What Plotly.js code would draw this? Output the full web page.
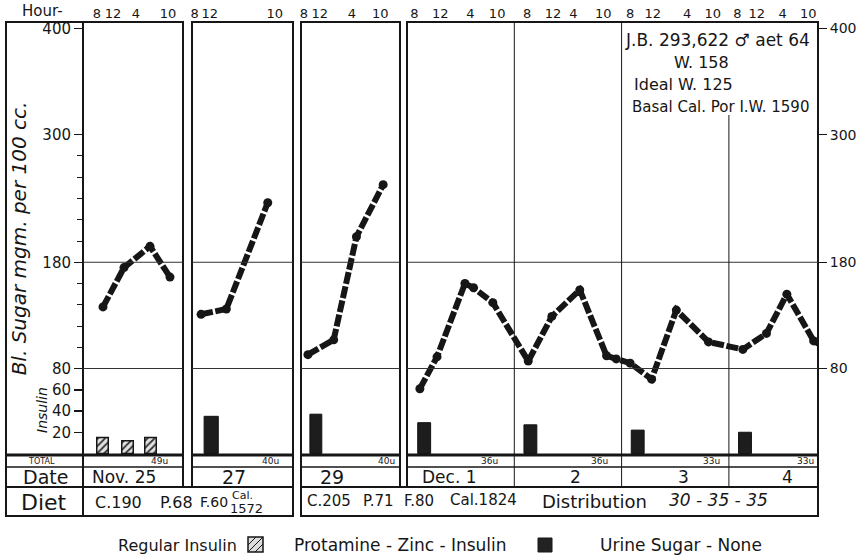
<!DOCTYPE html>
<html><head><meta charset="utf-8">
<script src="https://cdn.plot.ly/plotly-3.0.1.min.js"></script>
<style>html,body{margin:0;padding:0;background:#fff}#chart{width:868px;height:560px}</style>
</head><body><div id="chart"></div>
<script>
// ---------------- data ----------------
// time axis: day index + fraction of the drawn day column
const hourLabels   = ['8','12','4','10'];
const nov25Hours   = [0.14, 0.30, 0.53, 0.85];
const nov27Labels  = ['8','12','10'];
const nov27Hours   = [0.025, 0.175, 0.82];
const nov29Hours   = [0.03, 0.19, 0.515, 0.80];
const decHours     = [1.07,1.31,1.59,1.84, 2.12,2.36,2.55,2.83, 3.08,3.29,3.61,3.85, 4.08,4.26,4.50,4.74];

// blood sugar, mgm per 100 cc
const nov25Time  = [0.20, 0.41, 0.67, 0.87];
const nov25Sugar = [138, 175, 195, 166];
const nov27Time  = [0.09, 0.34, 0.75];
const nov27Sugar = [131, 136, 236];
const nov29Time  = [0.07, 0.33, 0.56, 0.83];
const nov29Sugar = [93, 107, 204, 253];
const decTime  = [1.12,1.28,1.54,1.62,1.80,2.13,2.35,2.61,2.86,2.95,3.08,3.28,3.51,3.81,4.13,4.35,4.54,4.79,4.83];
const decSugar = [61, 91, 160, 156, 142, 87, 129, 154, 92, 89, 85, 70, 135, 105, 98, 113, 150, 106, 105];

// insulin units
const regularTime  = [0.195, 0.445, 0.675];
const regularUnits = [15, 12, 15];
const pziNov27Time = [0.19];
const pziNov27     = [35];
const pziNov29Time = [0.15];
const pziNov29     = [37];
const pziDecTime   = [1.16, 2.15, 3.15, 4.15];
const pziDec       = [29, 27, 22, 20];

const totals = ['49u','40u','40u','36u','36u','33u','33u'];
const dates  = ['Nov. 25','27','29','Dec. 1','2','3','4'];
const sugarTicks = [20,40,60,80,180,300,400];
const minorTicks = [100,120,140,160,200,220,240,260,280];
const rightTicks = [80,180,300,400];
const gridLevels = [80,180];
const patientInfo = ['J.B. 293,622 ♂ aet 64','W. 158','Ideal W. 125','Basal Cal. Por I.W. 1590'];
const legendText = ['Regular Insulin','Protamine - Zinc - Insulin','Urine Sugar - None'];

// ---------------- layout helpers ----------------
const FONT = 'DejaVu Sans';
const INK = '#161616';
const W = 868, H = 560;
const X = p => p / W;
const Y = p => 1 - p / H;
const TOP = 22, BASE = 455, TOT = 467, DATE = 487, DIET = 516;
const panels = [[83,183],[192,293],[301,400],[407,818]];
const decRange = [1, 1 + (818 - 407) / 107.3];
const yRange = [-1.4, 406.1];

function xax(i, range, tv, tt) {
  return {domain:[X(panels[i][0]), X(panels[i][1])], range, anchor:'y', side:'top',
    showgrid:false, zeroline:false, showline:false, ticks:'', tickmode:'array', tickangle:0,
    tickvals:tv, ticktext:tt, tickfont:{family:FONT, size:13, color:INK}, fixedrange:true};
}
const decLabels = [].concat(hourLabels, hourLabels, hourLabels, hourLabels);

const lineStyle = {color:INK, width:6, dash:'12px,2.5px'};
function sugar(x, y, xa, ya) {
  return {type:'scatter', mode:'lines+markers', x, y, xaxis:xa, yaxis:ya,
    line:lineStyle, marker:{color:INK, size:9}, showlegend:false, hoverinfo:'skip'};
}
function pzi(x, y, xa, w) {
  return {type:'bar', x, y, xaxis:xa, yaxis:'y', width:w,
    marker:{color:'#1d1d1d', line:{color:'#111', width:1}}, showlegend:false, hoverinfo:'skip'};
}

const data = [
  {type:'bar', x:regularTime, y:regularUnits, xaxis:'x', yaxis:'y', width:0.115,
   marker:{color:'#e2e2e2', pattern:{shape:'/', fgcolor:'#333', bgcolor:'#e2e2e2', size:5, solidity:0.35},
           line:{color:INK, width:1.5}}, showlegend:false, hoverinfo:'skip'},
  pzi(pziNov27Time, pziNov27, 'x2', 0.14),
  pzi(pziNov29Time, pziNov29, 'x3', 0.12),
  pzi(pziDecTime, pziDec, 'x4', 0.12),
  sugar(nov25Time, nov25Sugar, 'x', 'y'),
  sugar(nov27Time, nov27Sugar, 'x2', 'y'),
  sugar(nov29Time, nov29Sugar, 'x3', 'y'),
  sugar(decTime, decSugar, 'x4', 'y2')
];

// ---------------- shapes ----------------
const shapes = [];
const ln = (x0,y0,x1,y1,w) => shapes.push({type:'line', xref:'paper', yref:'paper',
  x0:X(x0), y0:Y(y0), x1:X(x1), y1:Y(y1), line:{color:INK, width:w}});
const box = (x0,y0,x1,y1,w,fill) => shapes.push({type:'rect', xref:'paper', yref:'paper',
  x0:X(x0), y0:Y(y1), x1:X(x1), y1:Y(y0), line:{color:INK, width:w}, fillcolor:fill || 'rgba(0,0,0,0)'});

box(6, TOP, 83, DIET, 2);
ln(6, BASE, 83, BASE, 3); ln(6, TOT, 83, TOT, 1.5); ln(6, DATE, 83, DATE, 2);
const axNames = ['x','x2','x3','x4'];
panels.forEach(([a,b], i) => {
  box(a, TOP, b, DATE, 2);
  ln(a, BASE, b, BASE, 3);
  ln(a, TOT, b, TOT, 1.5);
  gridLevels.forEach(v => shapes.push({type:'line', xref:axNames[i] + ' domain', x0:0, x1:1,
    yref:'y', y0:v, y1:v, line:{color:'#333', width:1}}));
});
box(83, DATE, 293, DIET, 2);
box(301, DATE, 818, DIET, 2);
[2,3,4].forEach(d => shapes.push({type:'line', xref:'x4', x0:d, x1:d, yref:'paper',
  y0:Y(DATE), y1:Y(d === 4 ? 115 : TOP), line:{color:INK, width:1}}));

// legend swatches
box(248, 537, 263, 552, 1.5, '#dcdcdc');
ln(248, 552, 263, 537, 1); ln(248, 545, 256, 537, 1); ln(255, 552, 263, 544, 1);
box(538, 538, 552, 552, 1, '#222');

// ---------------- annotations ----------------
const ann = [];
const txt = (x, y, t, size, opt) => ann.push(Object.assign({xref:'paper', yref:'paper',
  x:X(x), y:Y(y), xanchor:'center', yanchor:'middle', text:t, showarrow:false,
  font:{family:FONT, size, color:INK}}, opt || {}));
const ital = size => ({family:FONT, size, color:INK, style:'italic'});

txt(42, 11, 'Hour-', 15);
txt(42, 410, 'Insulin', 14, {textangle:-90, font:ital(14)});
txt(41, 461, 'TOTAL', 8);
txt(45, 477, 'Date', 19);
txt(44, 502, 'Diet', 22);

const totalRight = [170, 281, 397, 500, 610, 722, 816];
totals.forEach((t, i) => txt(totalRight[i], 461, t, 9, {xanchor:'right'}));
const dateX = [[90,'left'],[234,'center'],[332,'center'],[420,'left'],[575,'center'],[683,'center'],[787,'center']];
dates.forEach((t, i) => txt(dateX[i][0], 477, t, i === 1 || i === 2 ? 19 : 17, {xanchor:dateX[i][1]}));

txt(93, 502, 'C.190', 16, {xanchor:'left'});
txt(158, 502, 'P.68', 16, {xanchor:'left'});
txt(198, 502, 'F.60', 14, {xanchor:'left'});
txt(243, 495, 'Cal.', 11);
txt(246, 508, '1572', 13);
txt(305, 501, 'C.205', 15, {xanchor:'left'});
txt(361, 501, 'P.71', 15, {xanchor:'left'});
txt(402, 501, 'F.80', 15, {xanchor:'left'});
txt(448, 500, 'Cal.1824', 15, {xanchor:'left'});
txt(540, 501, 'Distribution', 18, {xanchor:'left'});
txt(667, 500, '30 - 35 - 35', 17, {xanchor:'left', font:ital(17)});

const infoPos = [[623,40,17],[672,62,16],[632,84,16],[630,107,15]];
patientInfo.forEach((t, i) => txt(infoPos[i][0], infoPos[i][1], t, infoPos[i][2], {xanchor:'left'}));

const legendFont = [16, 17, 17];
const legX = [116, 292, 598];
legendText.forEach((t, i) => txt(legX[i], 545, t, legendFont[i], {xanchor:'left'}));

// ---------------- layout ----------------
const layout = {
  width:W, height:H, margin:{l:0, r:0, t:0, b:0},
  paper_bgcolor:'#fff', plot_bgcolor:'rgba(0,0,0,0)', barmode:'overlay',
  font:{family:FONT, color:INK},
  xaxis: xax(0, [0,1], nov25Hours, hourLabels),
  xaxis2: xax(1, [0,1], nov27Hours, nov27Labels),
  xaxis3: xax(2, [0,1], nov29Hours, hourLabels),
  xaxis4: xax(3, decRange, decHours, decLabels),
  yaxis: {domain:[Y(BASE), Y(TOP)], range:yRange, anchor:'x', side:'left',
    tickmode:'array', tickvals:sugarTicks, ticktext:sugarTicks.map(String),
    ticks:'outside', ticklen:8, tickwidth:1.5, tickcolor:INK,
    tickfont:{family:FONT, size:15, color:INK},
    minor:{tickmode:'array', tickvals:minorTicks, ticks:'outside', ticklen:5, tickcolor:INK, tickwidth:1},
    showgrid:false, zeroline:false, showline:false, fixedrange:true,
    title:{text:'Bl. Sugar mgm. per 100 cc.', standoff:10, font:ital(20)}},
  yaxis2: {domain:[Y(BASE), Y(TOP)], range:yRange, overlaying:'y', anchor:'x4', side:'right',
    tickmode:'array', tickvals:rightTicks, ticktext:rightTicks.map(String),
    ticks:'outside', ticklen:8, tickwidth:1.5, tickcolor:INK,
    tickfont:{family:FONT, size:14, color:INK},
    showgrid:false, zeroline:false, showline:false, fixedrange:true},
  shapes, annotations:ann
};

Plotly.newPlot('chart', data, layout, {displayModeBar:false, staticPlot:true});
</script>
</body></html>
